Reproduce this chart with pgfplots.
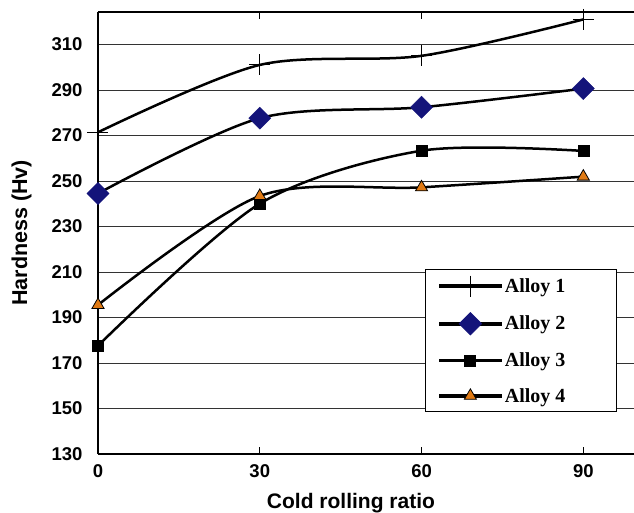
\documentclass[border=0pt]{standalone}
\usepackage{pgfplots}
\pgfplotsset{compat=1.18}
\usepackage{fontspec}
\setmainfont{Liberation Sans}
\newfontfamily\legendfont{Liberation Serif}
\definecolor{navyc}{HTML}{14147A}
\definecolor{orangec}{HTML}{E07A14}
\pgfplotsset{
  curve/.style={black, line width=2.5pt, smooth, tension=0.5, mark=none, forget plot},
  lmarks/.style={only marks, legend image code/.code={%
    \fill[black] (0pt,-1.3pt) rectangle (62pt,1.3pt);
    \draw[##1] plot coordinates {(31pt,0pt)};}},
}
\begin{document}
\begin{tikzpicture}
\begin{axis}[
  scale only axis, width=536pt, height=442.3pt,
  xmin=0, xmax=99.4, ymin=130, ymax=324.4,
  axis x line*=box, axis y line*=left,
  axis line style={line width=2.2pt},
  xtick={0,30,60,90}, ytick={130,150,...,310},
  tick align=inside, major tick length=7pt,
  xtick style={black, line width=0.8pt},
  ytick style={draw=none},
  ymajorgrids, grid style={black!80, line width=0.9pt},
  /pgf/number format/assume math mode=true,
  ticklabel style={font=\fontsize{18.5}{20}\selectfont\bfseries},
  yticklabel style={xshift=-12pt},
  xticklabel style={yshift=-7pt},
  xlabel={Cold rolling ratio}, ylabel={Hardness (Hv)},
  xlabel style={font=\fontsize{21}{24}\selectfont\bfseries, at={(axis description cs:0.472,-0.1221)}, anchor=base},
  ylabel style={font=\fontsize{21.5}{24}\selectfont\bfseries, at={(axis description cs:-0.1427,0.5)}, anchor=center},
  legend style={at={(0.968,0.095)}, anchor=south east, draw=black, line width=0.9pt,
    inner xsep=13pt, inner ysep=6pt, row sep=16pt, column sep=1pt,
    font=\legendfont\fontsize{20}{24}\selectfont\bfseries, cells={anchor=west}},
]
% Alloy 1
\addplot[curve] coordinates {(0,271.4)(30,301)(60,305)(90,321)};
\addplot[lmarks, black, mark=+, mark size=10.5pt, mark options={line width=1.1pt}] coordinates {(0,271.4)(30,301)(60,305)(90,321)};
\addlegendentry{Alloy 1\hspace*{36pt}}
% Alloy 2
\addplot[curve] coordinates {(0,244.5)(30,277.6)(60,282.4)(90,290.6)};
\addplot[lmarks, mark=square*, mark size=7.8pt, mark options={fill=navyc, draw=navyc, rotate=45}] coordinates {(0,244.5)(30,277.6)(60,282.4)(90,290.6)};
\addlegendentry{Alloy 2\hspace*{36pt}}
% Alloy 3
\addplot[curve] coordinates {(0,177.6)(30,240)(60,263.3)(90,263.2)};
\addplot[lmarks, mark=square*, mark size=5.5pt, mark options={fill=black, draw=black}] coordinates {(0,177.6)(30,240)(60,263.3)(90,263.2)};
\addlegendentry{Alloy 3\hspace*{36pt}}
% Alloy 4
\addplot[curve] coordinates {(0,195.5)(30,243.4)(60,247.2)(90,251.9)};
\addplot[lmarks, mark=triangle*, mark size=7pt, mark options={fill=orangec, draw=black, line width=0.8pt}] coordinates {(0,195.5)(30,243.4)(60,247.2)(90,251.9)};
\addlegendentry{Alloy 4\hspace*{36pt}}
\end{axis}
\pgfresetboundingbox
\path ([shift={(-98pt,-59pt)}]current axis.south west) rectangle ([shift={(0pt,11.7pt)}]current axis.north east);
\end{tikzpicture}
\end{document}
